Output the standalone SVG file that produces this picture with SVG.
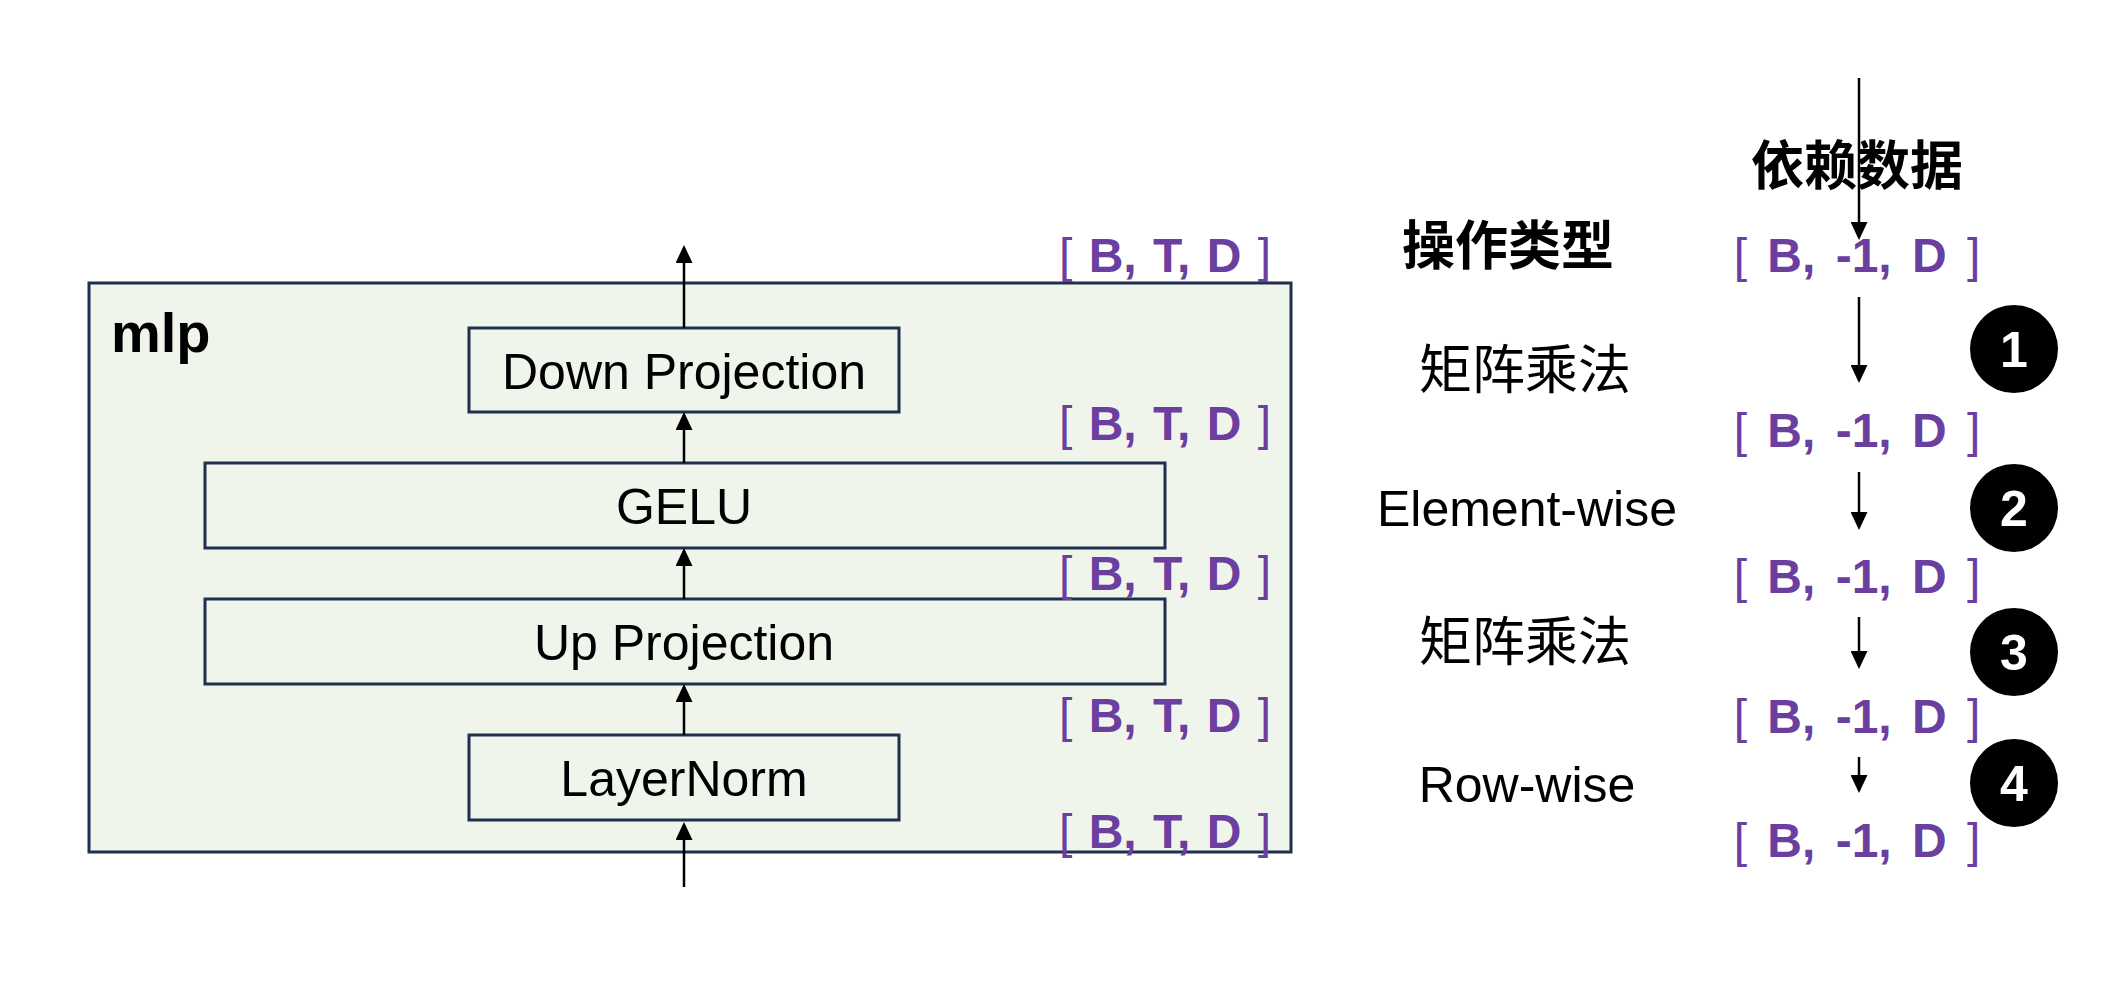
<svg xmlns="http://www.w3.org/2000/svg" width="2112" height="1000" viewBox="0 0 2112 1000">
<style>
.box{fill:#f0f5ec;stroke:#1f2f4f;stroke-width:3}
.lbl{font-family:"Liberation Sans",Arial,sans-serif;font-size:50px;fill:#000;text-anchor:middle}
.shape{font-family:"Liberation Sans",Arial,sans-serif;font-size:48px;font-weight:bold;fill:#6b3fa0;text-anchor:middle;word-spacing:3px}
.wide{word-spacing:7px}
.br{font-weight:normal}
.cjk{font-family:"Liberation Sans","Noto Sans CJK SC",sans-serif;font-size:53px;fill:#000;text-anchor:middle}
.num{font-family:"Liberation Sans",Arial,sans-serif;font-size:50px;font-weight:bold;fill:#fff;text-anchor:middle}
.conn{stroke:#000;stroke-width:2.5;fill:none;marker-end:url(#ah)}
</style>
<defs>
<marker id="ah" markerUnits="userSpaceOnUse" markerWidth="18" markerHeight="17" refX="15" refY="8.5" orient="auto">
<path d="M0,0 L18,8.5 L0,17 z" fill="#000"/>
</marker>
</defs>
<rect width="2112" height="1000" fill="#fff"/>
<g id="mlp">
<rect class="box" x="89" y="283" width="1202" height="569"/>
<text x="111" y="352" font-family="Liberation Sans,Arial,sans-serif" font-size="56" font-weight="bold" fill="#000">mlp</text>
</g>
<g id="down-projection">
<rect class="box" x="469" y="328" width="430" height="84"/>
<text class="lbl" x="684" y="389">Down Projection</text>
</g>
<g id="gelu">
<rect class="box" x="205" y="463" width="960" height="85"/>
<text class="lbl" x="684" y="524">GELU</text>
</g>
<g id="up-projection">
<rect class="box" x="205" y="599" width="960" height="85"/>
<text class="lbl" x="684" y="660">Up Projection</text>
</g>
<g id="layernorm">
<rect class="box" x="469" y="735" width="430" height="85"/>
<text class="lbl" x="684" y="796">LayerNorm</text>
</g>
<g id="shapes-left">
<text class="shape" x="1165" y="272"><tspan class="br">[</tspan> B, T, D <tspan class="br">]</tspan></text>
<text class="shape" x="1165" y="440"><tspan class="br">[</tspan> B, T, D <tspan class="br">]</tspan></text>
<text class="shape" x="1165" y="590"><tspan class="br">[</tspan> B, T, D <tspan class="br">]</tspan></text>
<text class="shape" x="1165" y="732"><tspan class="br">[</tspan> B, T, D <tspan class="br">]</tspan></text>
<text class="shape" x="1165" y="848"><tspan class="br">[</tspan> B, T, D <tspan class="br">]</tspan></text>
</g>
<g id="headers">
<text class="cjk" x="1857" y="185" font-weight="bold">依赖数据</text>
<text class="cjk" x="1508" y="265" font-weight="bold">操作类型</text>
</g>
<g id="op-types">
<text class="cjk" x="1525" y="389">矩阵乘法</text>
<text class="lbl" x="1527" y="526">Element-wise</text>
<text class="cjk" x="1525" y="661">矩阵乘法</text>
<text class="lbl" x="1527" y="802">Row-wise</text>
</g>
<g id="shapes-right">
<text class="shape wide" x="1857" y="272"><tspan class="br">[</tspan> B, -1, D <tspan class="br">]</tspan></text>
<text class="shape wide" x="1857" y="447"><tspan class="br">[</tspan> B, -1, D <tspan class="br">]</tspan></text>
<text class="shape wide" x="1857" y="593"><tspan class="br">[</tspan> B, -1, D <tspan class="br">]</tspan></text>
<text class="shape wide" x="1857" y="733"><tspan class="br">[</tspan> B, -1, D <tspan class="br">]</tspan></text>
<text class="shape wide" x="1857" y="857"><tspan class="br">[</tspan> B, -1, D <tspan class="br">]</tspan></text>
</g>
<g id="steps">
<circle cx="2014" cy="349" r="44" fill="#000"/>
<text class="num" x="2014" y="367">1</text>
<circle cx="2014" cy="508" r="44" fill="#000"/>
<text class="num" x="2014" y="526">2</text>
<circle cx="2014" cy="652" r="44" fill="#000"/>
<text class="num" x="2014" y="670">3</text>
<circle cx="2014" cy="783" r="44" fill="#000"/>
<text class="num" x="2014" y="801">4</text>
</g>
<g id="connectors">
<line class="conn" x1="684" y1="887" x2="684" y2="825"/>
<line class="conn" x1="684" y1="735" x2="684" y2="687"/>
<line class="conn" x1="684" y1="599" x2="684" y2="551"/>
<line class="conn" x1="684" y1="463" x2="684" y2="415"/>
<line class="conn" x1="684" y1="328" x2="684" y2="248"/>
<line class="conn" x1="1859" y1="78" x2="1859" y2="237"/>
<line class="conn" x1="1859" y1="297" x2="1859" y2="380"/>
<line class="conn" x1="1859" y1="472" x2="1859" y2="527"/>
<line class="conn" x1="1859" y1="617" x2="1859" y2="666"/>
<line class="conn" x1="1859" y1="757" x2="1859" y2="790"/>
</g>
</svg>
